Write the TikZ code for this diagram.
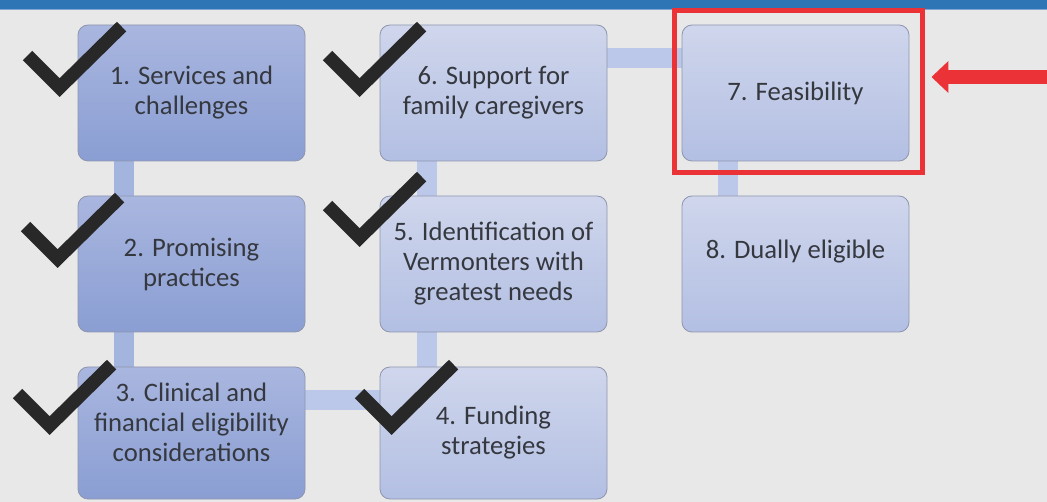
\documentclass[tikz,border=0pt]{standalone}
\usepackage{fontspec}
\setmainfont{Carlito}
\usetikzlibrary{positioning,backgrounds,fit,arrows.meta}

\definecolor{slide}{HTML}{E8E8E8}
\definecolor{titlebar}{HTML}{2E75B6}
\definecolor{titleline}{HTML}{7FA6D6}
\definecolor{dtop}{HTML}{A9B6DF}
\definecolor{dbot}{HTML}{8A9ED3}
\definecolor{ltop}{HTML}{CFD6EC}
\definecolor{lbot}{HTML}{B3BFE3}
\definecolor{boxline}{HTML}{8E96AE}
\definecolor{dlink}{HTML}{A3B4DF}
\definecolor{llink}{HTML}{BCC8EA}
\definecolor{txt}{HTML}{35383F}
\definecolor{tickc}{HTML}{282828}
\definecolor{hired}{HTML}{EB3237}

\tikzset{
  checkmark/.pic={\draw[line width=10pt, tickc, miter limit=10] (-32,-32) -- (0,0) -- (62,-61);}
}

\begin{document}
\begin{tikzpicture}[x=0.75pt,y=-0.75pt,node distance=128.25pt and 226.5pt,on grid,
    box/.style={draw=boxline, line width=0.6pt, rounded corners=7.5pt,
      minimum width=170.25pt, minimum height=102pt, align=center,
      text=txt, font=\fontsize{20}{22.5}\selectfont},
    darkbox/.style={box, top color=dtop, bottom color=dbot},
    lightbox/.style={box, top color=ltop, bottom color=lbot},
    lastrow/.style={minimum height=99pt, yshift=1.5pt},
    link/.style={line width=15pt, llink},
    frame/.style={draw=hired, line width=3.75pt},
    pointer/.style={hired, line width=11pt, -{Triangle[length=12.75pt,width=23.25pt]}}]
  \useasboundingbox (0,0) rectangle (1047,502);

  \node[darkbox] (s1) at (191.5,93) {1. Services and\\ challenges};
  \node[darkbox] (s2) [below=of s1] {2. Promising\\ practices};
  \node[darkbox, lastrow] (s3) [below=of s2] {3. Clinical and\\ financial eligibility\\ considerations\\[-6pt]\mbox{}};
  \node[lightbox] (s6) [right=of s1] {6. Support for\\ family caregivers};
  \node[lightbox] (s5) [below=of s6] {5. Identification of\\ Vermonters with\\ greatest needs};
  \node[lightbox, lastrow] (s4) [below=of s5] {4. Funding\\ strategies};
  \node[lightbox] (s7) [right=of s6] {7. Feasibility};
  \node[lightbox] (s8) [below=of s7] {8. Dually eligible\\ \mbox{}};

  \begin{scope}[on background layer]
    \fill[slide] (0,0) rectangle (1047,502);
    \fill[titlebar] (0,0) rectangle (1047,9);
    \fill[titleline] (0,9) rectangle (1047,10.5);
    % bars joining the steps
    \draw[link, dlink] ([shift={(-67.5,0)}]s1.center) -- ([shift={(-67.5,0)}]s2.center);
    \draw[link, dlink] ([shift={(-67.5,0)}]s2.center) -- ([shift={(-67.5,0)}]s3.center);
    \draw[link] ([shift={(0,-33)}]s3.center) -- ([shift={(0,-33)}]s4.center);
    \draw[link] ([shift={(-67,0)}]s4.center) -- ([shift={(-67,0)}]s5.center);
    \draw[link] ([shift={(-67,0)}]s5.center) -- ([shift={(-67,0)}]s6.center);
    \draw[link] ([shift={(0,-35)}]s6.center) -- ([shift={(0,-35)}]s7.center);
    \draw[link] ([shift={(-67.5,0)}]s7.center) -- ([shift={(-67.5,0)}]s8.center);
  \end{scope}

  % finished steps
  \pic at ([shift={(-18,63)}]s1.north west) {checkmark};
  \pic at ([shift={(-20,63)}]s2.north west) {checkmark};
  \pic at ([shift={(-28,59)}]s3.north west) {checkmark};
  \pic at ([shift={(12,59)}]s4.north west) {checkmark};
  \pic at ([shift={(-20,42)}]s5.north west) {checkmark};
  \pic at ([shift={(-20,63)}]s6.north west) {checkmark};

  % current step
  \node[frame, fit=(s7), inner xsep=7.9pt, inner ysep=9.75pt, xshift=2.25pt, yshift=1.1pt] (hl) {};
  \coordinate (tail) at (1050,77);
  \draw[pointer, shorten >=4.5pt] (tail) -- (tail -| hl.east);
\end{tikzpicture}
\end{document}
